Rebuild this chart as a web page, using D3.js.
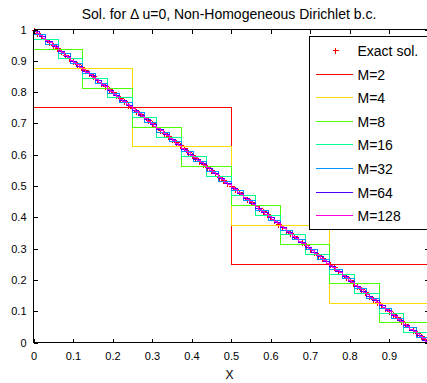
<!DOCTYPE html>
<html>
<head>
<meta charset="utf-8">
<script src="https://cdn.jsdelivr.net/npm/d3@7"></script>
<style>
  html, body { margin: 0; padding: 0; background: #fff; }
  svg { display: block; font-family: "Liberation Sans", Arial, Helvetica, sans-serif; }
</style>
</head>
<body>
<svg id="chart" width="427" height="383"></svg>
<script>
// Exact solution u(x) = 1 - x sampled on [0, 1]
const exactX = [0,0.01,0.02,0.03,0.04,0.05,0.06,0.07,0.08,0.09,0.1,0.11,0.12,0.13,0.14,0.15,0.16,0.17,0.18,0.19,0.2,0.21,0.22,0.23,0.24,0.25,0.26,0.27,0.28,0.29,0.3,0.31,0.32,0.33,0.34,0.35,0.36,0.37,0.38,0.39,0.4,0.41,0.42,0.43,0.44,0.45,0.46,0.47,0.48,0.49,0.5,0.51,0.52,0.53,0.54,0.55,0.56,0.57,0.58,0.59,0.6,0.61,0.62,0.63,0.64,0.65,0.66,0.67,0.68,0.69,0.7,0.71,0.72,0.73,0.74,0.75,0.76,0.77,0.78,0.79,0.8,0.81,0.82,0.83,0.84,0.85,0.86,0.87,0.88,0.89,0.9,0.91,0.92,0.93,0.94,0.95,0.96,0.97,0.98,0.99,1];
const exactU = [1,0.99,0.98,0.97,0.96,0.95,0.94,0.93,0.92,0.91,0.9,0.89,0.88,0.87,0.86,0.85,0.84,0.83,0.82,0.81,0.8,0.79,0.78,0.77,0.76,0.75,0.74,0.73,0.72,0.71,0.7,0.69,0.68,0.67,0.66,0.65,0.64,0.63,0.62,0.61,0.6,0.59,0.58,0.57,0.56,0.55,0.54,0.53,0.52,0.51,0.5,0.49,0.48,0.47,0.46,0.45,0.44,0.43,0.42,0.41,0.4,0.39,0.38,0.37,0.36,0.35,0.34,0.33,0.32,0.31,0.3,0.29,0.28,0.27,0.26,0.25,0.24,0.23,0.22,0.21,0.2,0.19,0.18,0.17,0.16,0.15,0.14,0.13,0.12,0.11,0.1,0.09,0.08,0.07,0.06,0.05,0.04,0.03,0.02,0.01,0];

// Piecewise-constant numerical solutions, one value per cell
const solM2 = [0.75, 0.25];
const solM4 = [0.875, 0.625, 0.375, 0.125];
const solM8 = [0.9375, 0.8125, 0.6875, 0.5625, 0.4375, 0.3125, 0.1875, 0.0625];
const solM16 = [0.96875, 0.90625, 0.84375, 0.78125, 0.71875, 0.65625, 0.59375, 0.53125,
  0.46875, 0.40625, 0.34375, 0.28125, 0.21875, 0.15625, 0.09375, 0.03125];
const solM32 = [0.984375, 0.953125, 0.921875, 0.890625, 0.859375, 0.828125, 0.796875, 0.765625,
  0.734375, 0.703125, 0.671875, 0.640625, 0.609375, 0.578125, 0.546875, 0.515625,
  0.484375, 0.453125, 0.421875, 0.390625, 0.359375, 0.328125, 0.296875, 0.265625,
  0.234375, 0.203125, 0.171875, 0.140625, 0.109375, 0.078125, 0.046875, 0.015625];
const solM64 = [0.9922, 0.9766, 0.9609, 0.9453, 0.9297, 0.9141, 0.8984, 0.8828,
  0.8672, 0.8516, 0.8359, 0.8203, 0.8047, 0.7891, 0.7734, 0.7578,
  0.7422, 0.7266, 0.7109, 0.6953, 0.6797, 0.6641, 0.6484, 0.6328,
  0.6172, 0.6016, 0.5859, 0.5703, 0.5547, 0.5391, 0.5234, 0.5078,
  0.4922, 0.4766, 0.4609, 0.4453, 0.4297, 0.4141, 0.3984, 0.3828,
  0.3672, 0.3516, 0.3359, 0.3203, 0.3047, 0.2891, 0.2734, 0.2578,
  0.2422, 0.2266, 0.2109, 0.1953, 0.1797, 0.1641, 0.1484, 0.1328,
  0.1172, 0.1016, 0.0859, 0.0703, 0.0547, 0.0391, 0.0234, 0.0078];
const solM128 = [0.9961, 0.9883, 0.9805, 0.9727, 0.9648, 0.9570, 0.9492, 0.9414,
  0.9336, 0.9258, 0.9180, 0.9102, 0.9023, 0.8945, 0.8867, 0.8789,
  0.8711, 0.8633, 0.8555, 0.8477, 0.8398, 0.8320, 0.8242, 0.8164,
  0.8086, 0.8008, 0.7930, 0.7852, 0.7773, 0.7695, 0.7617, 0.7539,
  0.7461, 0.7383, 0.7305, 0.7227, 0.7148, 0.7070, 0.6992, 0.6914,
  0.6836, 0.6758, 0.6680, 0.6602, 0.6523, 0.6445, 0.6367, 0.6289,
  0.6211, 0.6133, 0.6055, 0.5977, 0.5898, 0.5820, 0.5742, 0.5664,
  0.5586, 0.5508, 0.5430, 0.5352, 0.5273, 0.5195, 0.5117, 0.5039,
  0.4961, 0.4883, 0.4805, 0.4727, 0.4648, 0.4570, 0.4492, 0.4414,
  0.4336, 0.4258, 0.4180, 0.4102, 0.4023, 0.3945, 0.3867, 0.3789,
  0.3711, 0.3633, 0.3555, 0.3477, 0.3398, 0.3320, 0.3242, 0.3164,
  0.3086, 0.3008, 0.2930, 0.2852, 0.2773, 0.2695, 0.2617, 0.2539,
  0.2461, 0.2383, 0.2305, 0.2227, 0.2148, 0.2070, 0.1992, 0.1914,
  0.1836, 0.1758, 0.1680, 0.1602, 0.1523, 0.1445, 0.1367, 0.1289,
  0.1211, 0.1133, 0.1055, 0.0977, 0.0898, 0.0820, 0.0742, 0.0664,
  0.0586, 0.0508, 0.0430, 0.0352, 0.0273, 0.0195, 0.0117, 0.0039];

const seriesNames = ["M=2", "M=4", "M=8", "M=16", "M=32", "M=64", "M=128"];
const seriesValues = [solM2, solM4, solM8, solM16, solM32, solM64, solM128];
const seriesColors = ["#ff0000", "#ffdb00", "#49ff00", "#00ff92", "#0092ff", "#4900ff", "#ff00db"];
const exactLabel = "Exact sol.";
const exactColor = "#ff0000";

const xTicks = [0, 0.1, 0.2, 0.3, 0.4, 0.5, 0.6, 0.7, 0.8, 0.9];
const yTicks = [0, 0.1, 0.2, 0.3, 0.4, 0.5, 0.6, 0.7, 0.8, 0.9, 1];
const titleText = "Sol. for \u0394 u=0, Non-Homogeneous Dirichlet b.c.";
const xLabelText = "X";

const svg = d3.select("#chart");
const plotL = 33.5, plotR = 428.5, plotT = 29.5, plotB = 342.5;

const x = d3.scaleLinear().domain([0, 1]).range([plotL, plotR]);
const y = d3.scaleLinear().domain([0, 1]).range([plotB, plotT]);

// Exact-solution "+" markers
const ms = 3;
const markers = svg.append("g").attr("shape-rendering", "crispEdges")
  .attr("stroke", exactColor).attr("stroke-width", 1);
exactX.forEach((xv, i) => {
  const cx = Math.round(x(xv)) + 0.5, cy = Math.round(y(exactU[i])) + 0.5;
  markers.append("path").attr("d", `M${cx - ms},${cy}H${cx + ms}M${cx},${cy - ms}V${cy + ms}`);
});

// Stair plots: each cell value held constant over its cell
const stair = d3.line().x(d => x(d[0])).y(d => y(d[1])).curve(d3.curveStepAfter);
seriesValues.forEach((vals, s) => {
  const n = vals.length;
  const pts = vals.map((v, k) => [k / n, v]);
  pts.push([1, vals[n - 1]]);
  svg.append("path").attr("d", stair(pts)).attr("fill", "none")
    .attr("stroke", seriesColors[s]).attr("stroke-width", 1)
    .attr("shape-rendering", "crispEdges");
});

// Axes box with inward ticks on all four sides
const tickLen = 4;
const axG = svg.append("g").attr("shape-rendering", "crispEdges");
const gx = axG.append("g").attr("transform", `translate(0,${plotB})`)
  .call(d3.axisBottom(x).tickValues(xTicks).tickSize(-tickLen).tickPadding(10).tickFormat(d3.format("~g")));
const gy = axG.append("g").attr("transform", `translate(${plotL},0)`)
  .call(d3.axisLeft(y).tickValues(yTicks).tickSize(-tickLen).tickPadding(7).tickFormat(d3.format("~g")));
const gxt = axG.append("g").attr("transform", `translate(0,${plotT})`)
  .call(d3.axisTop(x).tickValues(xTicks).tickSize(-tickLen).tickFormat(""));
const gyr = axG.append("g").attr("transform", `translate(${plotR},0)`)
  .call(d3.axisRight(y).tickValues(yTicks).tickSize(-tickLen).tickFormat(""));
[gx, gy, gxt, gyr].forEach(g => {
  g.selectAll("path.domain").attr("stroke", "#000");
  g.selectAll("line").attr("stroke", "#000");
});
// plain domain lines without end caps
gx.select("path.domain").attr("d", `M${plotL},0H${plotR}`);
gxt.select("path.domain").attr("d", `M${plotL},0H${plotR}`);
gy.select("path.domain").attr("d", `M0,${plotT}V${plotB}`);
gyr.select("path.domain").attr("d", `M0,${plotT}V${plotB}`);
[gx, gy].forEach(g => g.selectAll("text")
  .attr("font-family", "Liberation Sans, Arial, sans-serif")
  .attr("font-size", 11).attr("fill", "#000"));

// Title and axis label
svg.append("text").attr("x", 229).attr("y", 18.5).attr("text-anchor", "middle")
  .attr("font-size", 14).attr("fill", "#000").text(titleText);
svg.append("text").attr("x", 229.5).attr("y", 378.5).attr("text-anchor", "middle")
  .attr("font-size", 12).attr("fill", "#000").text(xLabelText);

// Legend
const lg = svg.append("g");
lg.append("rect").attr("x", 309.5).attr("y", 36.5).attr("width", 118).attr("height", 192.5)
  .attr("fill", "#fff").attr("stroke", "#000").attr("shape-rendering", "crispEdges");
const rowY = i => Math.round(50 + i * 23.6) + 0.5;
const legendRows = [{ label: exactLabel, color: exactColor, marker: true }]
  .concat(seriesNames.map((n, i) => ({ label: n, color: seriesColors[i], marker: false })));
legendRows.forEach((r, i) => {
  const cy = rowY(i);
  if (r.marker) {
    lg.append("path").attr("d", `M${335.5 - ms},${cy}H${335.5 + ms}M335.5,${cy - ms}V${cy + ms}`)
      .attr("stroke", r.color).attr("shape-rendering", "crispEdges");
  } else {
    lg.append("path").attr("d", `M316,${cy}H353`).attr("stroke", r.color)
      .attr("shape-rendering", "crispEdges");
  }
  lg.append("text").attr("x", 357.5).attr("y", cy + 5).attr("font-size", 14)
    .attr("fill", "#000").text(r.label);
});
</script>
</body>
</html>
